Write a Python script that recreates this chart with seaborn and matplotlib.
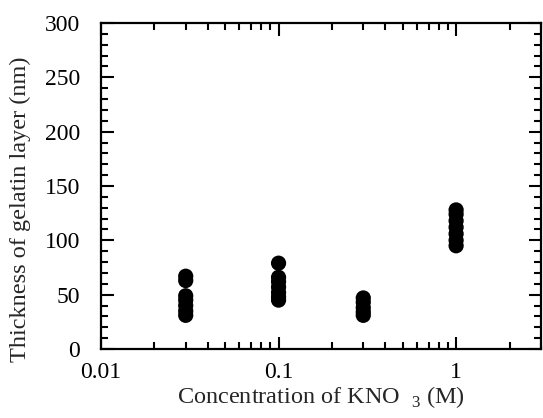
import numpy as np
import pandas as pd
import matplotlib
matplotlib.use("Agg")
import matplotlib.pyplot as plt
from matplotlib.ticker import LogLocator, MultipleLocator, FixedLocator, FixedFormatter
import seaborn as sns

# KNO3 concentration (M) for each group of measurements
concentrations = [0.03, 0.1, 0.3, 1.0]

# gelatin layer thickness (nm), one list per concentration
thickness_003 = [67, 63, 49, 45, 40, 35, 31]
thickness_01 = [79, 66, 62, 57, 52, 48, 45]
thickness_03 = [47, 43, 38, 34, 31]
thickness_1 = [128, 124, 118, 112, 106, 100, 95]

x_ticks = [0.01, 0.1, 1]
x_tick_labels = ["0.01", "0.1", "1"]


def build_frame():
    """Put the groups into one long table."""
    rows = []
    for c, vals in zip(concentrations, [thickness_003, thickness_01, thickness_03, thickness_1]):
        for v in vals:
            rows.append({"conc": c, "thick": v})
    return pd.DataFrame(rows)


def main():
    sns.set_style("ticks")
    plt.rcParams["font.family"] = ["Liberation Serif", "DejaVu Serif"]
    plt.rcParams["mathtext.fontset"] = "custom"
    plt.rcParams["mathtext.rm"] = "Liberation Serif"

    df = build_frame()

    fig = plt.figure(figsize=(5.43, 4.18), dpi=100)
    ax = fig.add_axes([0.186, 0.165, 0.81, 0.78])

    sns.scatterplot(data=df, x="conc", y="thick", ax=ax, color="black",
                    s=120, edgecolor="none", legend=False)

    ax.set_xscale("log")
    ax.set_xlim(0.01, 3)
    ax.set_ylim(0, 300)

    ax.xaxis.set_major_locator(FixedLocator(x_ticks))
    ax.xaxis.set_major_formatter(FixedFormatter(x_tick_labels))
    ax.xaxis.set_minor_locator(LogLocator(base=10, subs=np.arange(2, 10)))
    ax.xaxis.set_minor_formatter(plt.NullFormatter())
    ax.yaxis.set_major_locator(MultipleLocator(50))
    ax.yaxis.set_minor_locator(MultipleLocator(10))

    ax.tick_params(which="both", direction="in", top=True, right=True,
                   width=1.5, labelsize=17, colors="black")
    ax.tick_params(which="major", length=9)
    ax.tick_params(which="minor", length=5)
    ax.tick_params(axis="y", which="major", pad=15)
    ax.tick_params(axis="x", which="major", pad=9)
    for sp in ax.spines.values():
        sp.set_linewidth(1.6)
        sp.set_color("black")

    ax.set_xlabel("Concentration of KNO $_{\\ 3}$ (M)", fontsize=17.5, labelpad=1)
    ax.set_ylabel("Thickness of gelatin layer (nm)", fontsize=17.5)
    ax.yaxis.set_label_coords(-0.16, 0.43)

    fig.savefig("out.png", dpi=100)


if __name__ == "__main__":
    main()
